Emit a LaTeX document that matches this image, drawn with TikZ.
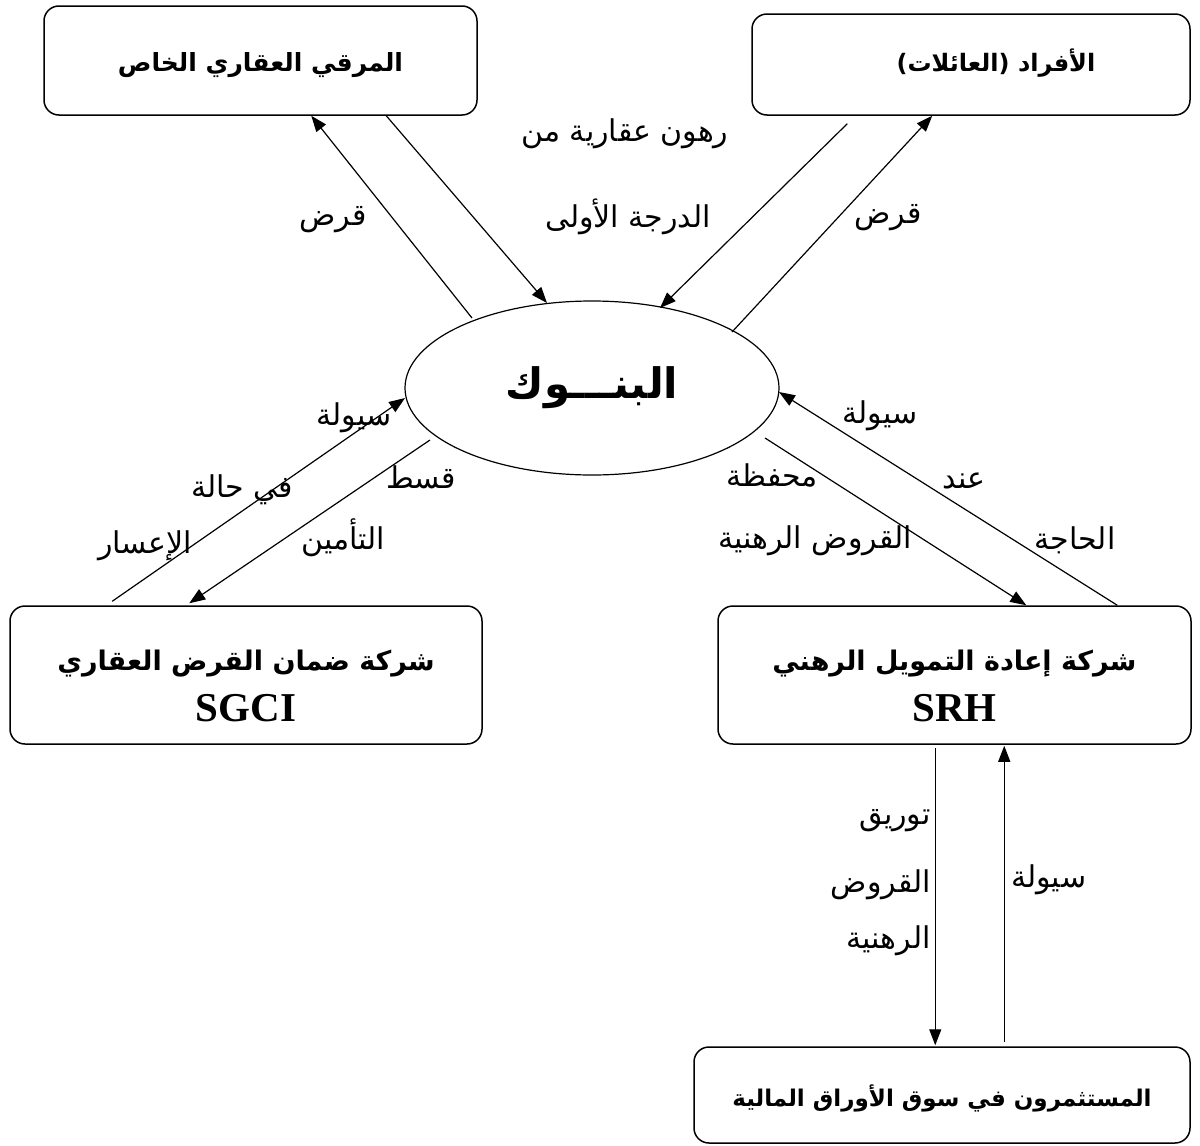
\documentclass[tikz,border=0pt]{standalone}
\usepackage{fontspec}
\setmainfont{Liberation Serif}
\newfontfamily\arabicfont[Script=Arabic]{DejaVu Sans}
\TeXXeTstate=1
\usetikzlibrary{shapes.geometric,arrows.meta,calc}
\newcommand{\fs}[1]{\fontsize{#1}{#1}\selectfont}
\begin{document}
\begin{tikzpicture}[x=1pt,y=-1pt,
  box/.style={draw,line width=1.5pt,rounded corners=15pt,inner sep=0pt},
  title/.style={inner sep=0pt,font=\arabicfont\bfseries},
  lab/.style={inner sep=0pt,font=\arabicfont\fontsize{30}{34}\selectfont},
  latin/.style={inner sep=0pt,font=\rmfamily\bfseries\fontsize{41}{44}\selectfont},
  arr/.style={line width=1.2pt,-{Triangle[length=16pt,width=12pt]}}]
\useasboundingbox (0,0) rectangle (1200,1146);
% boxes
\node[box,minimum width=433pt,minimum height=109pt] (tl) at (260.5,60.5) {};
\node[box,minimum width=438pt,minimum height=101pt] (tr) at (971,64.5) {};
\node[draw,ellipse,line width=1.2pt,minimum width=374pt,minimum height=174pt,inner sep=0pt,
  font=\arabicfont\bfseries\fontsize{42}{46}\selectfont] (ell) at (592,388) {\beginR البنـــوك\endR};
\node[box,minimum width=472pt,minimum height=138pt] (ll) at (246,675) {};
\node[box,minimum width=473pt,minimum height=138pt] (lr) at (954.5,675) {};
\node[box,minimum width=496pt,minimum height=96pt] (bt) at (942,1095) {};
% box titles
\node[title,font=\arabicfont\bfseries\fs{25}] (tlt) at ($(tl.center)+(0,5)$) {\beginR المرقي العقاري الخاص\endR};
\node[title,font=\arabicfont\bfseries\fs{24}] (trt) at ($(tr.center)+(25,-1)$) {\beginR الأفراد (العائلات)\endR};
\node[title,font=\arabicfont\bfseries\fs{27}] (llt) at ($(ll.center)+(0,-11)$) {\beginR شركة ضمان القرض العقاري\endR};
\node[latin] (lln) at ($(ll.center)+(0,33)$) {SGCI};
\node[title,font=\arabicfont\bfseries\fs{27}] (lrt) at ($(lr.center)+(0,-11)$) {\beginR شركة إعادة التمويل الرهني\endR};
\node[latin] (lrn) at ($(lr.center)+(0,33)$) {SRH};
\node[title,font=\arabicfont\bfseries\fs{23}] (btt) at ($(bt.center)+(0,3)$) {\beginR المستثمرون في سوق الأوراق المالية\endR};
% connectors
\draw[arr] ($(ell.center)+(-120,-70)$) -- ($(tl.south west)+(268,0)$);
\draw[arr] ($(tl.south west)+(343,0)$) -- ($(ell.center)+(-45,-85)$);
\draw[arr] ($(tr.south west)+(96,8)$) -- ($(ell.center)+(68,-80)$);
\draw[arr] ($(ell.center)+(140,-56)$) -- ($(tr.south west)+(181,0)$);
\draw[arr] ($(ll.north west)+(103,-4)$) -- ($(ell.center)+(-187,10)$);
\draw[arr] ($(ell.center)+(-162,52)$) -- ($(ll.north west)+(180,-2)$);
\draw[arr] ($(ell.center)+(173,50)$) -- ($(lr.north west)+(309,0)$);
\draw[arr] ($(lr.north west)+(400,0)$) -- ($(ell.center)+(187,4)$);
\draw[arr] ($(lr.south west)+(218,3)$) -- ($(bt.north west)+(242,-1)$);
\draw[arr] ($(bt.north west)+(311,-4)$) -- ($(lr.south west)+(287,1)$);
% labels
\node[lab] (l1) at (333,220) {\beginR قرض\endR};
\node[lab] (l2) at (625,134) {\beginR رهون عقارية من\endR};
\node[lab] (l3) at (628,217) {\beginR الدرجة الأولى\endR};
\node[lab] (l4) at (888,218) {\beginR قرض\endR};
\node[lab] (l5) at (354,418) {\beginR سيولة\endR};
\node[lab] (l6) at (242,490) {\beginR في حالة\endR};
\node[lab] (l7) at (145,546) {\beginR الإعسار\endR};
\node[lab] (l8) at (421,477) {\beginR قسط\endR};
\node[lab] (l9) at (343,538) {\beginR التأمين\endR};
\node[lab] (l10) at (880,416) {\beginR سيولة\endR};
\node[lab] (l11) at (964,481) {\beginR عند\endR};
\node[lab] (l12) at (1075,540) {\beginR الحاجة\endR};
\node[lab] (l13) at (772,475) {\beginR محفظة\endR};
\node[lab] (l14) at (815,541) {\beginR القروض الرهنية\endR};
\node[lab,anchor=east] (l15) at (931,821) {\beginR توريق\endR};
\node[lab,anchor=east] (l16) at (931,885) {\beginR القروض\endR};
\node[lab,anchor=east] (l17) at (931,941) {\beginR الرهنية\endR};
\node[lab,anchor=west] (l18) at (1011,880) {\beginR سيولة\endR};
\end{tikzpicture}
\end{document}
